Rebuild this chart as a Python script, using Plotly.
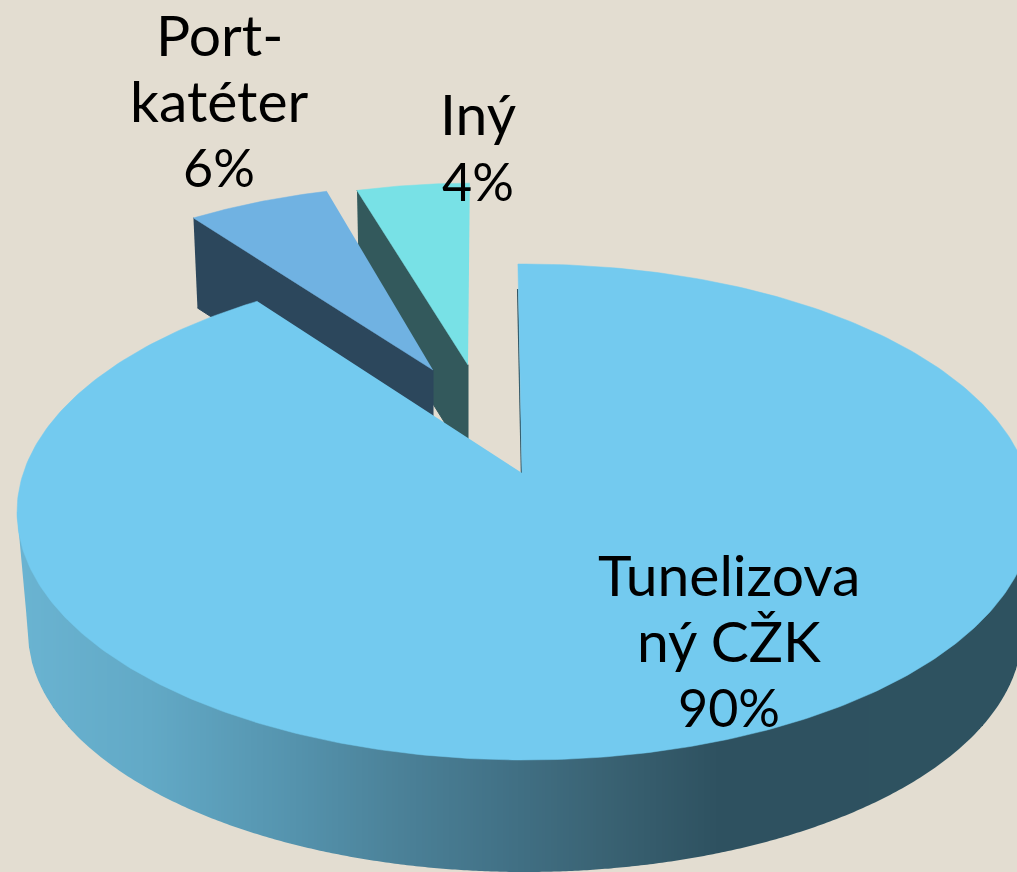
import numpy as np
import plotly.graph_objects as go

# --- data ---
categories = [["Tunelizova", "ný CŽK"], ["Port-", "katéter"], ["Iný"]]
values = [90, 6, 4]
top_colors = ["#73CAEF", "#70B2E2", "#78E1E6"]
side_colors = ["#2E5260", "#2C475C", "#33595C"]
background = "#E3DDD1"

# --- projection of the tilted pie onto the 1017x872 picture ---
W, H = 1017, 872
TOP = dict(cx=525, cy=512, a=508, b=248)      # upper rim ellipse
BOT = dict(cx=525, cy=632, a=497, b=240)      # lower rim ellipse
HUB = np.array([522.0, 473.0])                # projected pie centre
# perspective: true pie angle -> drawn ellipse angle
WARP_TRUE = [0, 324, 345.6, 360]
WARP_DRAWN = [-0.8, 328.2, 345.5, 359.9]
# per-slice placement
apex = [(522, 473), (433, 370), (468, 365)]
scale_x = [1.0, 0.905, 0.87]
scale_y = [1.0, 0.885, 0.87]
trim_start = [0, 0, -0.4]
trim_end = [0, 0.8, 0]
wall = [0, 90, 95]
wall_dx = [0, 4, 2]

# wall shading by horizontal position
shade_x = [0, 150, 300, 400, 500, 600, 720, 1017]
shade_rgb = np.array([
    [107, 181, 211], [98, 169, 198], [84, 146, 172], [75, 129, 152],
    [66, 114, 135], [58, 99, 116], [46, 81, 96], [46, 82, 96]])
STRIP = 3


def rim(deg, e):
    t = np.radians(deg)
    return e["cx"] + e["a"] * np.sin(t), e["cy"] - e["b"] * np.cos(t)


def lower(x, e):
    u = np.clip((x - e["cx"]) / e["a"], -1, 1)
    return e["cy"] + e["b"] * np.sqrt(1 - u * u)


def wall_bottom(x):
    left = BOT["cx"] - BOT["a"]
    tl = TOP["cx"] - TOP["a"]
    if x < left:
        return TOP["cy"] + (BOT["cy"] - TOP["cy"]) * (x - tl) / (left - tl)
    return lower(x, BOT)


def poly(x, y, color, width=1.0):
    return go.Scatter(x=x, y=y, mode="lines", fill="toself", fillcolor=color,
                      line=dict(color=color, width=width), hoverinfo="skip",
                      showlegend=False)


# slice angle ranges from the values
shares = np.array(values, float) / sum(values) * 360
ends = np.cumsum(shares)
starts = ends - shares
d0 = np.interp(starts, WARP_TRUE, WARP_DRAWN) + np.array(trim_start)
d1 = np.interp(ends, WARP_TRUE, WARP_DRAWN) + np.array(trim_end)

traces = []

# detached slices, back to front: Iný, then Port-katéter
for i in [2, 1]:
    ang = np.linspace(d0[i], d1[i], 40)
    ex, ey = rim(ang, TOP)
    ax, ay = apex[i]
    x = ax + scale_x[i] * (ex - HUB[0])
    y = ay + scale_y[i] * (ey - HUB[1])
    traces.append(poly([x[0], ax, ax, x[0] + wall_dx[i]],
                       [y[0], ay, ay + wall[i], y[0] + wall[i]],
                       side_colors[i]))
    traces.append(poly(np.r_[ax, x], np.r_[ay, y], top_colors[i], 0.5))

# outer wall of the big slice: vertical strips shaded by x
left_edge = TOP["cx"] - TOP["a"]
for x0 in range(left_edge, W, STRIP):
    x1 = x0 + STRIP
    rgb = [int(round(np.interp(x0 + STRIP / 2, shade_x, shade_rgb[:, c]))) for c in range(3)]
    col = f"rgb({rgb[0]},{rgb[1]},{rgb[2]})"
    traces.append(go.Scatter(
        x=[x0, x1, x1, x0],
        y=[TOP["cy"], TOP["cy"], wall_bottom(x1), wall_bottom(x0)],
        mode="lines", fill="toself", fillcolor=col, line=dict(width=0),
        hoverinfo="skip", showlegend=False))

# inner cut face of the big slice, seen edge-on
sx, sy = rim(d0[0], TOP)
traces.append(go.Scatter(x=[sx - 0.8 + 0.12 * (HUB[0] - sx), HUB[0] - 0.6],
                         y=[sy + 0.12 * (HUB[1] - sy), HUB[1]],
                         mode="lines", hoverinfo="skip", showlegend=False,
                         line=dict(color=side_colors[0], width=1.3)))

# top face of the big slice
ang = np.linspace(d0[0], d1[0], 400)
ex, ey = rim(ang, TOP)
traces.append(poly(np.r_[HUB[0], ex], np.r_[HUB[1], ey], top_colors[0], 0.5))

# labels, one annotation per line
label_x = [729, 219, 478]
label_y = [574, 34, 113]
LINE_GAP = 65.5
NAME_SIZE = 57
PCT_SIZE = 52
annotations = []
for cat, v, px, py in zip(categories, values, label_x, label_y):
    lines = cat + [f"{v}%"]
    for k, line in enumerate(lines):
        is_pct = k == len(lines) - 1
        annotations.append(dict(
            x=px, y=py + k * LINE_GAP + (2 if is_pct else 0), xref="x", yref="y",
            showarrow=False, text=line, xanchor="center", yanchor="middle",
            font=dict(family="Lato", size=PCT_SIZE if is_pct else NAME_SIZE, color="#000000")))

fig = go.Figure(traces)
fig.update_layout(
    width=W, height=H, margin=dict(l=0, r=0, t=0, b=0), autosize=False,
    paper_bgcolor=background, plot_bgcolor=background, showlegend=False,
    xaxis=dict(range=[0, W], visible=False, fixedrange=True),
    yaxis=dict(range=[H, 0], visible=False, fixedrange=True),
    annotations=annotations,
)
fig.write_html("out.html", config=dict(displayModeBar=False),
               post_script="document.body.style.margin='0';document.body.style.overflow='hidden';")
